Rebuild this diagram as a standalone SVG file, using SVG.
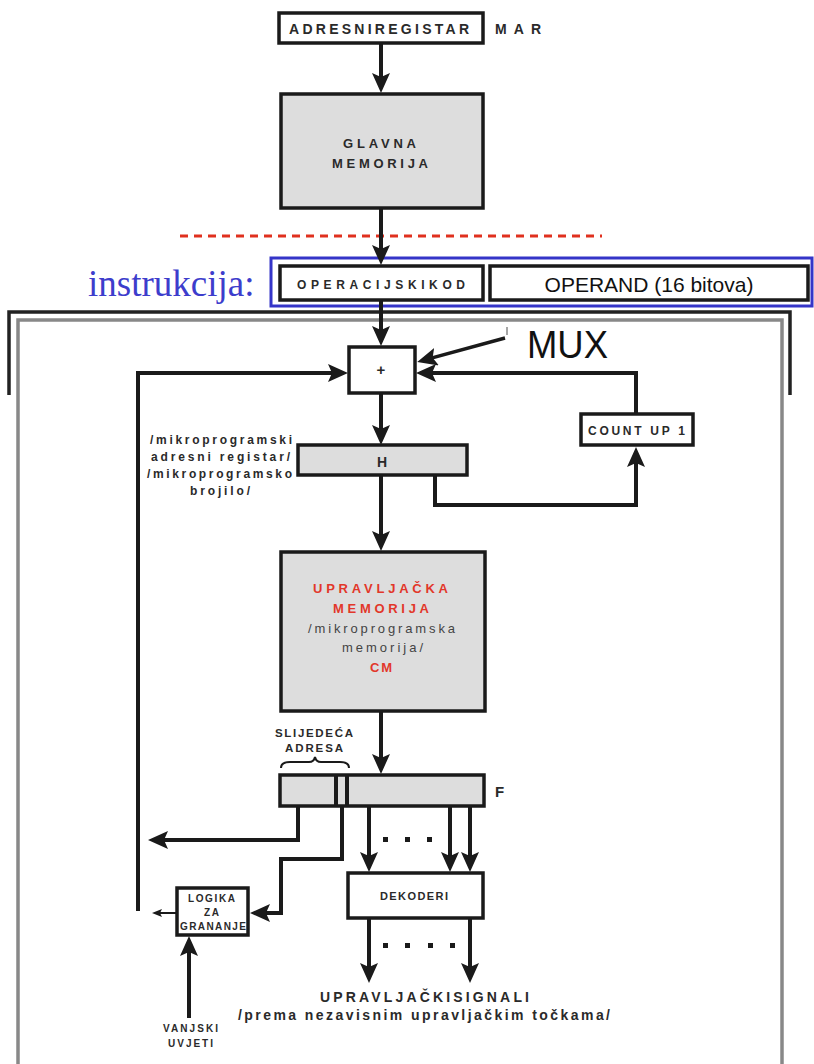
<svg xmlns="http://www.w3.org/2000/svg" width="814" height="1064" viewBox="0 0 814 1064">
<style>
.box{stroke:#1a1a1a;stroke-width:3.5;fill:#fff}
.gbox{stroke:#1a1a1a;stroke-width:3.5;fill:#dddddd}
.t{font-family:"Liberation Sans Narrow","Liberation Sans",Arial,sans-serif;font-weight:bold;fill:#2a2a2a}
.r{fill:#e2372a}
.n{font-weight:normal;fill:#444}
.c{stroke:#1a1a1a;stroke-width:4;fill:none}
.dot{fill:#1a1a1a}
</style>
<defs>
<marker id="ah" markerUnits="userSpaceOnUse" markerWidth="22" markerHeight="20" refX="14" refY="9" orient="auto">
<path d="M0,0 L20,9 L0,18 L4,9 z" fill="#1a1a1a"/>
</marker>
<marker id="ahs" markerUnits="userSpaceOnUse" markerWidth="12" markerHeight="10" refX="7" refY="4" orient="auto">
<path d="M0,0 L10,4 L0,8 L2,4 z" fill="#1a1a1a"/>
</marker>
</defs>

<!-- frames -->
<path d="M9,395 V312 H790 V395" fill="none" stroke="#222" stroke-width="3.5"/>
<rect x="18" y="320" width="764" height="760" fill="none" stroke="#888" stroke-width="3.5"/>
<line x1="180" y1="236" x2="602" y2="236" stroke="#e0301e" stroke-width="3" stroke-dasharray="8 6"/>
<rect x="271" y="258" width="541" height="48" fill="none" stroke="#3535c8" stroke-width="3"/>
<text x="88" y="296" font-family="Liberation Serif,Times New Roman,serif" font-size="37" fill="#3d3dcc">instrukcija:</text>

<g id="connectors">
<line class="c" x1="381" y1="43" x2="381" y2="87" marker-end="url(#ah)"/>
<line class="c" x1="381" y1="208" x2="381" y2="259" marker-end="url(#ah)"/>
<line class="c" x1="381" y1="300" x2="381" y2="340" marker-end="url(#ah)"/>
<line x1="505" y1="338" x2="423" y2="360.4" stroke="#1a1a1a" stroke-width="3.5" marker-end="url(#ah)"/>
<line x1="507" y1="327" x2="507" y2="335" stroke="#888" stroke-width="1.5"/>
<polyline class="c" points="138,911 138,373 342,373" marker-end="url(#ah)"/>
<polyline class="c" points="636,414 636,373 422,373" marker-end="url(#ah)"/>
<line class="c" x1="381" y1="393" x2="381" y2="439" marker-end="url(#ah)"/>
<polyline class="c" points="435,475 435,505 636,505 636,453" marker-end="url(#ah)"/>
<line class="c" x1="381" y1="475" x2="381" y2="545" marker-end="url(#ah)"/>
<line class="c" x1="381" y1="711" x2="381" y2="768" marker-end="url(#ah)"/>
<polyline class="c" points="298,806 298,840 154,840" marker-end="url(#ah)"/>
<polyline class="c" points="342,806 342,859 281,859 281,913 256,913" marker-end="url(#ah)"/>
<line class="c" x1="369" y1="806" x2="369" y2="866" marker-end="url(#ah)"/>
<line class="c" x1="450" y1="806" x2="450" y2="866" marker-end="url(#ah)"/>
<line class="c" x1="470" y1="806" x2="470" y2="866" marker-end="url(#ah)"/>
<line x1="177" y1="913" x2="155" y2="913" stroke="#1a1a1a" stroke-width="2" marker-end="url(#ahs)"/>
<line class="c" x1="189" y1="1018" x2="189" y2="942" marker-end="url(#ah)"/>
<line class="c" x1="369" y1="918" x2="369" y2="977" marker-end="url(#ah)"/>
<line class="c" x1="470" y1="918" x2="470" y2="977" marker-end="url(#ah)"/>
<rect class="dot" x="383" y="837" width="5" height="5"/>
<rect class="dot" x="405" y="837" width="5" height="5"/>
<rect class="dot" x="427" y="837" width="5" height="5"/>
<rect class="dot" x="383" y="943" width="5" height="5"/>
<rect class="dot" x="405" y="943" width="5" height="5"/>
<rect class="dot" x="428" y="943" width="5" height="5"/>
<rect class="dot" x="450" y="943" width="5" height="5"/>
</g>

<g id="mar">
<rect class="box" x="279" y="13" width="204" height="30"/>
<text class="t" x="289" y="34" font-size="14" textLength="180" lengthAdjust="spacing">ADRESNIREGISTAR</text>
<text class="t" x="495" y="34" font-size="14" textLength="46" lengthAdjust="spacing">MAR</text>
</g>

<g id="glavna">
<rect class="gbox" x="281" y="94" width="202" height="114"/>
<text class="t" x="343" y="148" font-size="13" textLength="73" lengthAdjust="spacing">GLAVNA</text>
<text class="t" x="332" y="168" font-size="13" textLength="96" lengthAdjust="spacing">MEMORIJA</text>
</g>

<g id="opkod">
<rect class="box" x="280" y="266" width="203" height="34" stroke-width="3"/>
<text class="t" x="297" y="289" font-size="12" textLength="168" lengthAdjust="spacing">OPERACIJSKIKOD</text>
</g>

<g id="operand">
<rect class="box" x="490" y="266" width="318" height="34" stroke-width="2.5"/>
<text x="649" y="292" font-family="Liberation Sans,Arial,sans-serif" font-size="21" fill="#111" text-anchor="middle">OPERAND (16 bitova)</text>
</g>

<g id="mux">
<rect class="box" x="349" y="347" width="66" height="46"/>
<text class="t" x="381" y="375" font-size="15" text-anchor="middle">+</text>
<text x="527" y="358" font-family="Liberation Sans,Arial,sans-serif" font-size="38" fill="#111" textLength="81" lengthAdjust="spacingAndGlyphs">MUX</text>
</g>

<g id="countup">
<rect class="box" x="581" y="414" width="112" height="31"/>
<text class="t" x="588" y="435" font-size="12" textLength="97" lengthAdjust="spacing">COUNT UP 1</text>
</g>

<g id="h">
<rect class="gbox" x="298" y="445" width="169" height="30"/>
<text class="t" x="382" y="467" font-size="14" text-anchor="middle">H</text>
<text class="t" x="150" y="444" font-size="12" textLength="142" lengthAdjust="spacing">/mikroprogramski</text>
<text class="t" x="151" y="461" font-size="12" textLength="139" lengthAdjust="spacing">adresni registar/</text>
<text class="t" x="147" y="478" font-size="12" textLength="145" lengthAdjust="spacing">/mikroprogramsko</text>
<text class="t" x="190" y="495" font-size="12" textLength="60" lengthAdjust="spacing">brojilo/</text>
</g>

<g id="cm">
<rect class="gbox" x="281" y="552" width="204" height="159" stroke-width="4"/>
<text class="t r" x="313" y="593" font-size="13" textLength="135" lengthAdjust="spacing">UPRAVLJAČKA</text>
<text class="t r" x="333" y="613" font-size="13" textLength="96" lengthAdjust="spacing">MEMORIJA</text>
<text class="t n" x="308" y="633" font-size="13" textLength="147" lengthAdjust="spacing">/mikroprogramska</text>
<text class="t n" x="342" y="652" font-size="13" textLength="81" lengthAdjust="spacing">memorija/</text>
<text class="t r" x="370" y="672" font-size="13" textLength="22" lengthAdjust="spacing">CM</text>
</g>

<g id="f">
<text class="t" x="275" y="737" font-size="11.5" textLength="78" lengthAdjust="spacing">SLIJEDEĆA</text>
<text class="t" x="285" y="752" font-size="11.5" textLength="58" lengthAdjust="spacing">ADRESA</text>
<path d="M281,768 Q281,762 290,762 H309 Q314,762 315,757 Q316,762 321,762 H340 Q349,762 349,768" fill="none" stroke="#1a1a1a" stroke-width="2"/>
<rect class="gbox" x="280" y="775" width="204" height="31"/>
<line x1="336" y1="775" x2="336" y2="806" stroke="#1a1a1a" stroke-width="4"/>
<line x1="347" y1="775" x2="347" y2="806" stroke="#1a1a1a" stroke-width="4"/>
<text class="t" x="495" y="797" font-size="15">F</text>
</g>

<g id="dekoderi">
<rect class="box" x="348" y="873" width="135" height="45"/>
<text class="t" x="380" y="900" font-size="11" textLength="68" lengthAdjust="spacing">DEKODERI</text>
</g>

<g id="logika">
<rect class="box" x="177" y="888" width="71" height="47"/>
<text class="t" x="188" y="902" font-size="10" textLength="47" lengthAdjust="spacing">LOGIKA</text>
<text class="t" x="204" y="916" font-size="10" textLength="15" lengthAdjust="spacing">ZA</text>
<text class="t" x="180" y="930" font-size="10" textLength="66" lengthAdjust="spacing">GRANANJE</text>
</g>

<g id="vanjski">
<text class="t" x="163" y="1032" font-size="10" textLength="55" lengthAdjust="spacing">VANJSKI</text>
<text class="t" x="168" y="1047" font-size="10" textLength="45" lengthAdjust="spacing">UVJETI</text>
</g>

<g id="signali">
<text class="t" x="320" y="1002" font-size="14" textLength="209" lengthAdjust="spacing">UPRAVLJAČKISIGNALI</text>
<text class="t" x="238" y="1020" font-size="14" textLength="372" lengthAdjust="spacing">/prema nezavisnim upravljačkim točkama/</text>
</g>
</svg>
